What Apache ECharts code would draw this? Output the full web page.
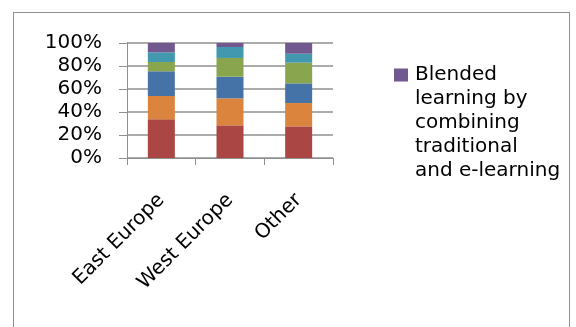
<!DOCTYPE html>
<html>
<head>
<meta charset="utf-8">
<script src="https://cdn.jsdelivr.net/npm/echarts@6/dist/echarts.min.js"></script>
<style>
html, body { margin: 0; padding: 0; background: #fff; }
#frame { position: absolute; left: 13px; top: 12px; width: 557px; height: 330px; border: 1px solid #8f8f8f; border-bottom: none; box-sizing: border-box; }
#chart { position: absolute; left: 0; top: 0; width: 576px; height: 327px; }
</style>
</head>
<body>
<div id="frame"></div>
<div id="chart"></div>
<script>
// categories and stacked shares (percent of total), bottom to top
const regions = ['East Europe', 'West Europe', 'Other'];
const seriesNames = ['Series 1', 'Series 2', 'Series 3', 'Series 4', 'Series 5',
	'Blended learning by combining traditional and e-learning'];
const colors = ['#AA4643', '#DB843D', '#4572A7', '#89A54E', '#4198AF', '#71588F'];
const shares = [
	[33.6, 28.4, 27.5],
	[20.3, 23.5, 20.3],
	[21.5, 18.8, 17.1],
	[8.1, 16.3, 18.0],
	[8.4, 9.5, 7.8],
	[8.1, 3.5, 9.3]
];
const yTicks = ['0%', '20%', '40%', '60%', '80%', '100%'];

var chartDom = document.getElementById('chart');
var myChart = echarts.init(chartDom);
var option;
var font = 'DejaVu Sans';

const series = seriesNames.map(function (name, i) {
	return {
		name: name,
		type: 'bar',
		stack: 'total',
		barWidth: 27,
		data: shares[i],
		itemStyle: { color: colors[i] }
	};
});

option = {
	animation: false,
	textStyle: { fontFamily: font, color: '#000' },
	grid: { left: 127, right: 243, top: 43, bottom: 169 },
	legend: {
		data: [seriesNames[5]],
		left: 394,
		top: 63,
		padding: 0,
		itemWidth: 16,
		itemHeight: 120,
		// square sits beside the first line of the wrapped label
		icon: 'path://M0,5.5H14V18.5H0Z M0,0H0.01 M15.99,120H16',
		formatter: function () {
			return 'Blended\nlearning by\ncombining\ntraditional\nand e-learning';
		},
		textStyle: {
			fontFamily: font,
			fontSize: 20,
			lineHeight: 24,
			color: '#000'
		}
	},
	xAxis: {
		type: 'category',
		data: regions,
		axisLine: { lineStyle: { color: '#8f8f8f' } },
		axisTick: { show: true, length: 7, lineStyle: { color: '#8f8f8f' } },
		axisLabel: {
			rotate: 45,
			margin: 39,
			fontSize: 20,
			color: '#000',
			fontFamily: font
		}
	},
	yAxis: {
		type: 'value',
		min: 0,
		max: 100,
		interval: 20,
		axisLine: { show: true, lineStyle: { color: '#8f8f8f' } },
		axisTick: { show: true, inside: false, length: 8, lineStyle: { color: '#8f8f8f' } },
		splitLine: { lineStyle: { color: '#8f8f8f', width: 1.5 } },
		axisLabel: {
			margin: 25,
			fontSize: 20,
			color: '#000',
			fontFamily: font,
			formatter: function (v) { return yTicks[v / 20]; }
		}
	},
	series: series
};

option && myChart.setOption(option);
</script>
</body>
</html>
